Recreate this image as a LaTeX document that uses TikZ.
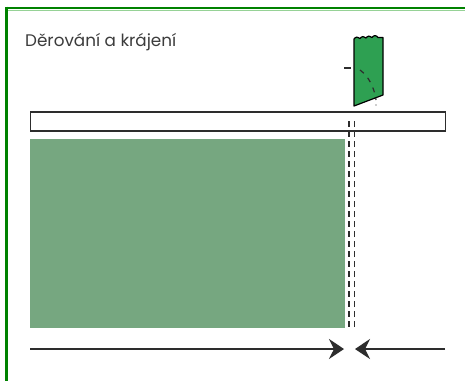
\documentclass[tikz,border=0pt]{standalone}
\usepackage{fontspec}
\setmainfont{Poppins}
\usetikzlibrary{arrows.meta}
\definecolor{frame}{RGB}{0,130,0}
\definecolor{framelight}{RGB}{150,210,150}
\definecolor{sheet}{RGB}{118,167,128}
\definecolor{blade}{RGB}{46,160,82}
\definecolor{ink}{RGB}{45,45,45}
\definecolor{titleink}{RGB}{60,60,60}
\tikzset{
  cutline/.style={line width=1.4pt, dash pattern=on 6pt off 4pt, ink},
  feed/.style={line width=1.3pt, ink, -{Stealth[length=15pt,width=20pt,inset=5pt]}},
}
\begin{document}
\begin{tikzpicture}[x=1pt,y=-1pt]
\useasboundingbox (0,0) rectangle (465,381);
\fill[white] (0,0) rectangle (465,381);
% frame
\draw[framelight, line width=1pt] (8,10) -- (465,10);
\draw[frame, line width=2.6pt] (6.5,8) -- (465,8);
\draw[frame, line width=3pt] (6.5,6.7) -- (6.5,381);
% title
\node[anchor=base west, inner sep=0pt, text=titleink, font=\fontsize{16.8}{19}\selectfont] (title) at (25,46) {Děrování a krájení};
% bar
\node[draw=ink, line width=1.5pt, minimum width=415pt, minimum height=19pt, inner sep=0pt, anchor=north west] (bar) at (29.5,111) {};
% sheet
\node[fill=sheet, minimum width=315pt, minimum height=189pt, inner sep=0pt, anchor=north west] (sheet) at (30,139) {};
% cut lines
\coordinate (c1t) at (349,121);
\coordinate (c1b) at (349,330);
\coordinate (c2t) at (354.5,121);
\coordinate (c2b) at (354.5,330);
\draw[cutline] (c1t) -- (c1b);
\draw[cutline] (c2t) -- (c2b);
% blade
\draw[fill=blade, draw=black, line width=1.2pt, line join=round]
  (354,106) -- (354,39)
  .. controls (356,36.5) and (358,36.5) .. (360,38.5)
  .. controls (362,36) and (364,36) .. (366,38)
  .. controls (368,35.5) and (370,35.5) .. (372,37.5)
  .. controls (374,35) and (376,35) .. (378,37.5)
  -- (383,37.5) -- (383,95) -- cycle;
\draw[ink, line width=1.2pt] (344,68) -- (351,68);
\draw[ink, line width=1.2pt, dash pattern=on 5pt off 6pt] (360,70) .. controls (368,76) and (374,86) .. (376,100);
\fill[ink] (376,105) circle (0.7pt);
% feed arrows
\coordinate (al) at (30,349);
\coordinate (ar) at (344,349);
\coordinate (bl) at (445,349);
\coordinate (br) at (355,349);
\draw[feed] (al) -- (ar);
\draw[feed] (bl) -- (br);
\end{tikzpicture}
\end{document}
